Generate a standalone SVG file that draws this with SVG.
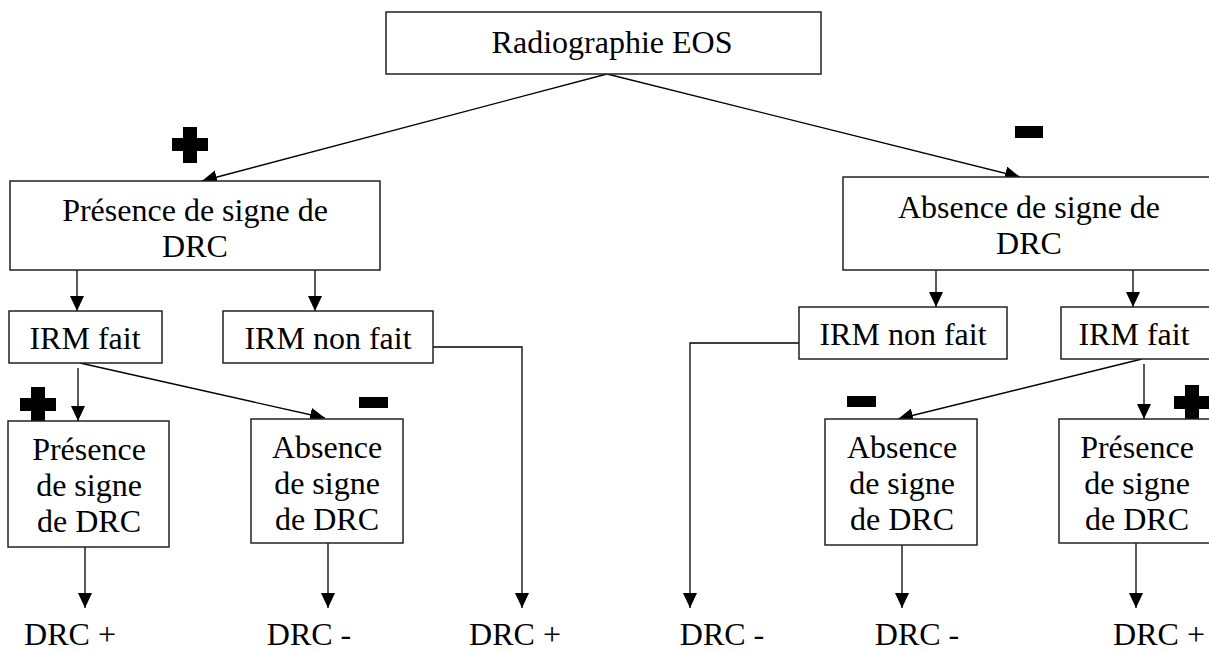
<svg xmlns="http://www.w3.org/2000/svg" width="1209" height="652" viewBox="0 0 1209 652">
<style>
.box{fill:#fff;stroke:#222;stroke-width:1.5}
.t{font-family:'Liberation Serif','Tinos','Times New Roman','DejaVu Serif',serif;font-size:32px;fill:#000;text-anchor:middle}
.c{fill:none;stroke:#000;stroke-width:1.3}
.sym{fill:#000}
</style>
<defs>
<marker id="ah" markerUnits="userSpaceOnUse" markerWidth="16" markerHeight="14" refX="15" refY="7" orient="auto">
<path d="M0,0 L15,7 L0,14 z" fill="#000"/>
</marker>
<path id="plus" d="M11,0 H25 V11 H36 V24 H25 V36 H11 V24 H0 V11 H11 z"/>
</defs>
<rect width="1209" height="652" fill="#fff"/>

<g id="signs" class="sym">
<use href="#plus" x="172" y="127"/>
<use href="#plus" x="20" y="387"/>
<use href="#plus" x="1174" y="385"/>
<rect x="1015" y="126" width="28" height="12"/>
<rect x="359" y="397" width="29" height="11"/>
<rect x="847" y="396" width="29" height="11"/>
</g>

<g id="connectors">
<line class="c" x1="607" y1="74" x2="202" y2="181" marker-end="url(#ah)"/>
<line class="c" x1="607" y1="74" x2="1020" y2="177" marker-end="url(#ah)"/>
<line class="c" x1="77" y1="270" x2="77" y2="311" marker-end="url(#ah)"/>
<line class="c" x1="315" y1="270" x2="315" y2="311" marker-end="url(#ah)"/>
<line class="c" x1="936" y1="270" x2="936" y2="307" marker-end="url(#ah)"/>
<line class="c" x1="1133" y1="270" x2="1133" y2="307" marker-end="url(#ah)"/>
<line class="c" x1="78" y1="368" x2="78" y2="421" marker-end="url(#ah)"/>
<line class="c" x1="80" y1="363" x2="325" y2="418" marker-end="url(#ah)"/>
<polyline class="c" points="433,347 522,347 522,608" marker-end="url(#ah)"/>
<polyline class="c" points="799,343 690,343 690,608" marker-end="url(#ah)"/>
<line class="c" x1="1142" y1="359" x2="898" y2="419" marker-end="url(#ah)"/>
<line class="c" x1="1144" y1="364" x2="1144" y2="419" marker-end="url(#ah)"/>
<line class="c" x1="85" y1="547" x2="85" y2="608" marker-end="url(#ah)"/>
<line class="c" x1="328" y1="543" x2="328" y2="608" marker-end="url(#ah)"/>
<line class="c" x1="902" y1="545" x2="902" y2="608" marker-end="url(#ah)"/>
<line class="c" x1="1136" y1="543" x2="1136" y2="608" marker-end="url(#ah)"/>
</g>

<g id="n-eos">
<rect class="box" x="386" y="12" width="435" height="62"/>
<text class="t" x="612" y="53">Radiographie EOS</text>
</g>
<g id="n-presence">
<rect class="box" x="10" y="181" width="370" height="89"/>
<text class="t" x="195" y="221">Présence de signe de</text>
<text class="t" x="195" y="257">DRC</text>
</g>
<g id="n-absence">
<rect class="box" x="843" y="177" width="372" height="93"/>
<text class="t" x="1029" y="218">Absence de signe de</text>
<text class="t" x="1029" y="254">DRC</text>
</g>
<g id="n-irm-fait-l">
<rect class="box" x="9" y="311" width="153" height="52"/>
<text class="t" x="85" y="349">IRM fait</text>
</g>
<g id="n-irm-non-l">
<rect class="box" x="223" y="311" width="210" height="52"/>
<text class="t" x="328" y="349">IRM non fait</text>
</g>
<g id="n-irm-non-r">
<rect class="box" x="799" y="307" width="208" height="52"/>
<text class="t" x="903" y="345">IRM non fait</text>
</g>
<g id="n-irm-fait-r">
<rect class="box" x="1061" y="307" width="160" height="52"/>
<text class="t" x="1134" y="345">IRM fait</text>
</g>
<g id="n-pres-l">
<rect class="box" x="8" y="421" width="161" height="126"/>
<text class="t" x="89" y="460">Présence</text>
<text class="t" x="89" y="496">de signe</text>
<text class="t" x="89" y="532">de DRC</text>
</g>
<g id="n-abs-l">
<rect class="box" x="251" y="419" width="152" height="124"/>
<text class="t" x="327" y="458">Absence</text>
<text class="t" x="327" y="494">de signe</text>
<text class="t" x="327" y="530">de DRC</text>
</g>
<g id="n-abs-r">
<rect class="box" x="825" y="419" width="152" height="126"/>
<text class="t" x="902" y="458">Absence</text>
<text class="t" x="902" y="494">de signe</text>
<text class="t" x="902" y="530">de DRC</text>
</g>
<g id="n-pres-r">
<rect class="box" x="1059" y="419" width="160" height="124"/>
<text class="t" x="1137" y="458">Présence</text>
<text class="t" x="1137" y="494">de signe</text>
<text class="t" x="1137" y="530">de DRC</text>
</g>

<g id="results">
<text class="t" x="70" y="645">DRC +</text>
<text class="t" x="309" y="645">DRC -</text>
<text class="t" x="515" y="645">DRC +</text>
<text class="t" x="722" y="645">DRC -</text>
<text class="t" x="917" y="645">DRC -</text>
<text class="t" x="1159" y="645">DRC +</text>
</g>
</svg>
